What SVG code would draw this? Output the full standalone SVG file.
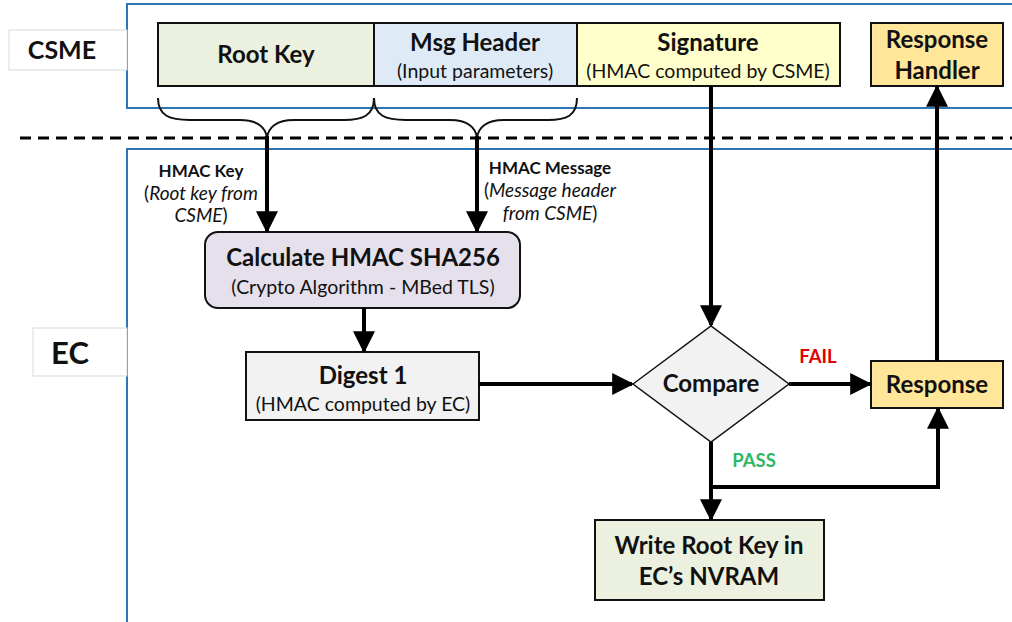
<svg xmlns="http://www.w3.org/2000/svg" width="1012" height="622" viewBox="0 0 1012 622">
  <style>
    text { font-family: Lato, "Open Sans", "Liberation Sans", sans-serif; fill: #111; text-anchor: middle; }
    .b { font-weight: bold; }
    .i { font-style: italic; }
    .t { font-size: 24px; font-weight: bold; }
    .s { font-size: 19.5px; }
    .zone { fill: #fff; stroke: #2E75B6; stroke-width: 2; }
    .tag { fill: #fff; stroke: #D9D9D9; stroke-width: 1; }
    .box { stroke: #111; stroke-width: 2; }
    .wire { fill: none; stroke: #000; stroke-width: 4; }
    .brace { fill: none; stroke: #111; stroke-width: 2; }
  </style>
  <defs>
    <marker id="ah" viewBox="0 0 10 10" refX="9" refY="5" markerWidth="5.5" markerHeight="5.5" orient="auto" markerUnits="strokeWidth">
      <path d="M0,0 L10,5 L0,10 Z" fill="#000"/>
    </marker>
  </defs>

  <!-- swimlane containers -->
  <rect class="zone" x="127" y="4" width="900" height="104"/>
  <rect class="zone" x="127" y="149" width="900" height="480"/>
  <line x1="20" y1="138" x2="1012" y2="138" stroke="#000" stroke-width="3" stroke-dasharray="11,7"/>

  <g id="lane-csme">
    <rect class="tag" x="9" y="30" width="118" height="40"/>
    <text class="b" x="62" y="59" font-size="25">CSME</text>
  </g>
  <g id="lane-ec">
    <rect class="tag" x="33" y="328" width="94" height="48"/>
    <text class="b" x="70" y="364" font-size="31">EC</text>
  </g>

  <g id="root-key">
    <rect class="box" x="158" y="23" width="216" height="63" fill="#EBF1DE"/>
    <text class="t" x="266" y="63">Root Key</text>
  </g>
  <g id="msg-header">
    <rect class="box" x="374" y="23" width="203" height="63" fill="#DEEBF7"/>
    <text class="t" x="475" y="51">Msg Header</text>
    <text class="s" x="475" y="78">(Input parameters)</text>
  </g>
  <g id="signature">
    <rect class="box" x="577" y="23" width="263" height="63" fill="#FFFFCC"/>
    <text class="t" x="708" y="51">Signature</text>
    <text class="s" x="708" y="78">(HMAC computed by CSME)</text>
  </g>
  <g id="response-handler">
    <rect class="box" x="871" y="23" width="132" height="63" fill="#FFE699"/>
    <text class="t" x="937" y="48">Response</text>
    <text class="t" x="937" y="79">Handler</text>
  </g>

  <g id="calc-hmac">
    <rect class="box" x="205" y="232" width="315" height="76" rx="13" fill="#E5E0EC"/>
    <text class="t" x="363" y="266">Calculate HMAC SHA256</text>
    <text class="s" x="363" y="294">(Crypto Algorithm - MBed TLS)</text>
  </g>
  <g id="digest">
    <rect class="box" x="246" y="352" width="233" height="68" fill="#F2F2F2"/>
    <text class="t" x="363" y="384">Digest 1</text>
    <text class="s" x="363" y="411">(HMAC computed by EC)</text>
  </g>
  <g id="compare">
    <path d="M633,384 L711,326 L789,384 L711,442 Z" fill="#F2F2F2" stroke="#111" stroke-width="1.5"/>
    <text class="t" x="711" y="392">Compare</text>
  </g>
  <g id="response">
    <rect class="box" x="871" y="361" width="132" height="47" fill="#FFE699"/>
    <text class="t" x="937" y="393">Response</text>
  </g>
  <g id="write-root-key">
    <rect class="box" x="595" y="520" width="229" height="80" fill="#EBF1DE"/>
    <text class="t" x="709" y="554">Write Root Key in</text>
    <text class="t" x="709" y="585">EC’s NVRAM</text>
  </g>

  <g id="edge-labels">
    <text class="b" x="201" y="177" font-size="17">HMAC Key</text>
    <text x="201" y="200" font-size="19">(<tspan class="i">Root key from</tspan></text>
    <text x="201" y="222" font-size="19"><tspan class="i">CSME</tspan>)</text>
    <text class="b" x="550" y="174" font-size="17">HMAC Message</text>
    <text x="550" y="197" font-size="19">(<tspan class="i">Message header</tspan></text>
    <text x="550" y="220" font-size="19"><tspan class="i">from CSME</tspan>)</text>
    <text class="b" x="818" y="363" font-size="18.5" style="fill:#E00000">FAIL</text>
    <text class="b" x="754" y="467" font-size="18.5" style="fill:#2DB866">PASS</text>
  </g>

  <g id="connectors">
    <path class="brace" d="M158,98 C158,116 170,120 190,120 L240,120 C258,120 266,128 267,138 C268,128 276,120 294,120 L344,120 C362,120 374,116 374,98"/>
    <path class="brace" d="M374,98 C374,116 386,120 406,120 L450,120 C468,120 476,128 477,138 C478,128 486,120 504,120 L548,120 C566,120 577,116 577,98"/>
    <line class="wire" x1="267" y1="136" x2="267" y2="231" marker-end="url(#ah)"/>
    <line class="wire" x1="477" y1="136" x2="477" y2="231" marker-end="url(#ah)"/>
    <line class="wire" x1="364" y1="308" x2="364" y2="351" marker-end="url(#ah)"/>
    <line class="wire" x1="479" y1="384" x2="632" y2="384" marker-end="url(#ah)"/>
    <line class="wire" x1="711" y1="86" x2="711" y2="325" marker-end="url(#ah)"/>
    <line class="wire" x1="789" y1="384" x2="870" y2="384" marker-end="url(#ah)"/>
    <line class="wire" x1="937" y1="361" x2="937" y2="87" marker-end="url(#ah)"/>
    <line class="wire" x1="711" y1="442" x2="711" y2="519" marker-end="url(#ah)"/>
    <polyline class="wire" points="711,487 938,487 938,409" marker-end="url(#ah)"/>
  </g>
</svg>
